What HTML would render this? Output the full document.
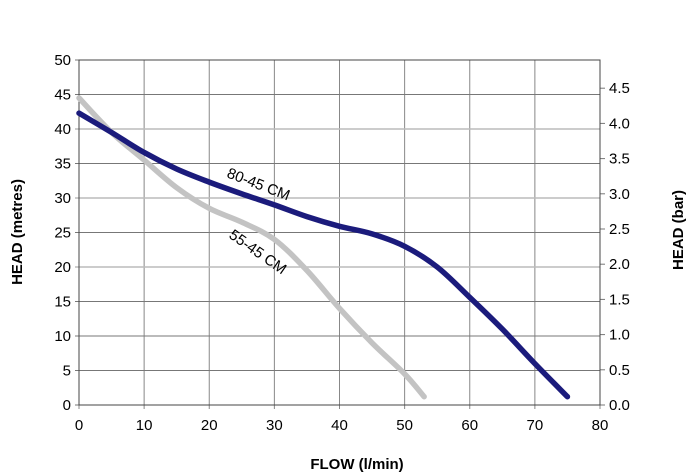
<!DOCTYPE html>
<html><head><meta charset="utf-8"><style>
body{margin:0;background:#fff;}
svg{display:block;font-family:"Liberation Sans",Arial,sans-serif;}
</style></head><body>
<svg id="chart" width="694" height="475"></svg>
<script>
const xTicks=[0,10,20,30,40,50,60,70,80];
const yTicks=[0,5,10,15,20,25,30,35,40,45,50];
const barTicks=["0.0","0.5","1.0","1.5","2.0","2.5","3.0","3.5","4.0","4.5"];
const flowA=[0,5,10,15,20,25,30,35,40,45,50,55,60,65,70,75];
const headA=[42.3,39.5,36.6,34.2,32.3,30.6,29,27.3,25.9,24.8,23,20,15.6,11,6,1.2];
const flowB=[0,5,10,15,20,25,30,35,40,45,50,53];
const headB=[44.5,39.5,35.5,31.5,28.5,26.5,24,19.5,14,9,4.5,1.2];
const X0=79,X1=600,Y0=405,Y1=60;
const sx=v=>X0+(v/80)*(X1-X0);
const sy=v=>Y0-(v/50)*(Y0-Y1);
const sb=v=>Y0-v*70.4;
const NS="http://www.w3.org/2000/svg";
const svg=document.getElementById('chart');
function mk(t,a,p){const e=document.createElementNS(NS,t);for(const k in a)e.setAttribute(k,a[k]);(p||svg).appendChild(e);return e;}
xTicks.forEach(v=>{
 const l=mk('line',{x1:sx(v),x2:sx(v),y1:Y1,y2:Y0+4,stroke:'#888','stroke-width':1});
 
 
 const t=mk('text',{x:sx(v),y:Y0+25,'text-anchor':'middle','font-size':15,fill:'#000'});
 t.textContent=v;
 
 
});
yTicks.forEach(v=>{
 const light=(v===20||v===30||v===40);
 const l=mk('line',{x1:X0-4,x2:X1,y1:sy(v),y2:sy(v),stroke:light?'#bbb':'#777','stroke-width':light?1.5:1});
 
 
 const t=mk('text',{x:X0-8,y:sy(v)+5,'text-anchor':'end','font-size':15,fill:'#000'});
 t.textContent=v;
 
 
});
barTicks.forEach(s=>{
 const v=parseFloat(s);
 const l=mk('line',{x1:X1,x2:X1+5,y1:sb(v),y2:sb(v),stroke:'#777','stroke-width':1});
 
 
 const t=mk('text',{x:X1+9,y:sb(v)+5,'font-size':15,fill:'#000'});
 t.textContent=s;
 
 
});
const frame=mk('rect',{x:X0,y:Y1,width:X1-X0,height:Y0-Y1,fill:'none',stroke:'#444','stroke-width':1});


function path(xs,ys){
 const p=xs.map((x,i)=>[sx(x),sy(ys[i])]);
 let d='M'+p[0][0]+','+p[0][1];
 for(let i=0;i<p.length-1;i++){
  const a=p[i-1]||p[i],b=p[i],c=p[i+1],e=p[i+2]||c;
  d+=' C'+(b[0]+(c[0]-a[0])/6)+','+(b[1]+(c[1]-a[1])/6)+' '+(c[0]-(e[0]-b[0])/6)+','+(c[1]-(e[1]-b[1])/6)+' '+c[0]+','+c[1];
 }
 return d;
}
const gB=mk('path',{d:path(flowB,headB),fill:'none',stroke:'#c3c3c3','stroke-width':5.5,'stroke-linecap':'round'});


const gA=mk('path',{d:path(flowA,headA),fill:'none',stroke:'#1b1b7c','stroke-width':5.5,'stroke-linecap':'round'});


const la=mk('text',{x:0,y:0,'font-size':15,fill:'#000',transform:'translate(226,177) rotate(21)'});
la.textContent='80-45 CM';


const lb=mk('text',{x:0,y:0,'font-size':15,fill:'#000',transform:'translate(228,237) rotate(35)'});
lb.textContent='55-45 CM';


const xt=mk('text',{x:357,y:469,'text-anchor':'middle','font-size':15,'font-weight':'bold',fill:'#000'});
xt.textContent='FLOW (l/min)';


const yt=mk('text',{x:0,y:0,'text-anchor':'middle','font-size':15,'font-weight':'bold',fill:'#000',transform:'translate(22,232) rotate(-90)'});
yt.textContent='HEAD (metres)';


const yr=mk('text',{x:0,y:0,'text-anchor':'middle','font-size':15,'font-weight':'bold',fill:'#000',transform:'translate(683,230) rotate(-90)'});
yr.textContent='HEAD (bar)';


</script>
</body></html>
